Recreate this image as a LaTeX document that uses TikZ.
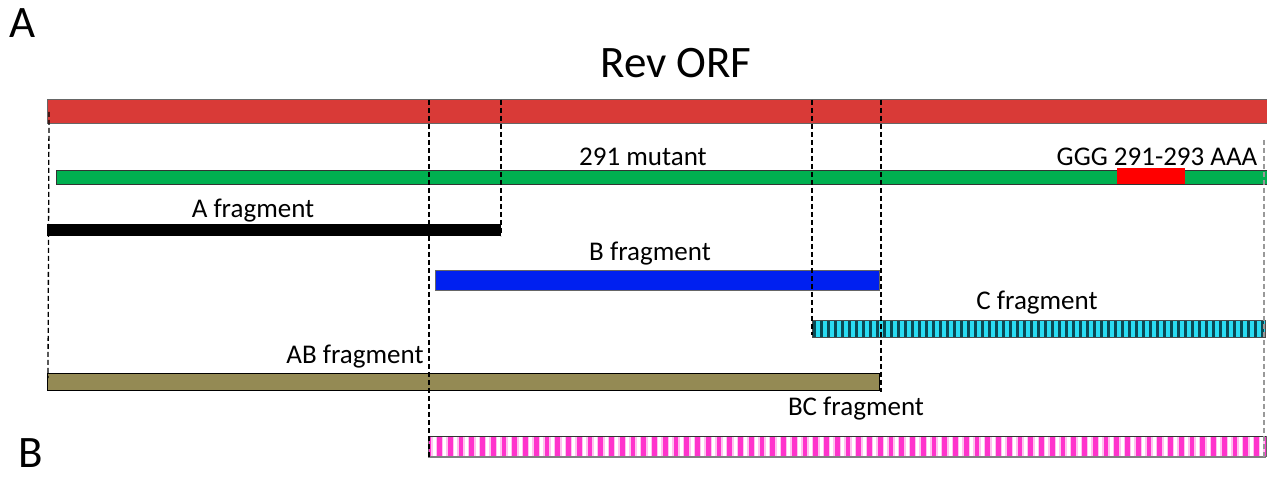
\documentclass[tikz,border=0pt]{standalone}
\usepackage{fontspec}
\setmainfont{Carlito}
\definecolor{revred}{HTML}{D93A37}
\definecolor{mutgreen}{HTML}{00B050}
\definecolor{bblue}{HTML}{0020F0}
\definecolor{ccyan}{HTML}{2ADCF2}
\definecolor{cstripe}{HTML}{0A4A55}
\definecolor{olive}{HTML}{948A54}
\definecolor{pinkbar}{HTML}{FF33CC}
\tikzset{
  guide/.style={line width=1.3pt, dash pattern=on 5pt off 3pt},
  lab/.style={font=\fontsize{27}{28}\selectfont, inner sep=0pt, anchor=base},
  big/.style={font=\fontsize{45}{48}\selectfont, inner sep=0pt, anchor=base},
}
\begin{document}
\begin{tikzpicture}[x=1pt,y=-1pt]
\useasboundingbox (0,0) rectangle (1267,478);
% bars
\path[fill=revred, draw=black!60, line width=1pt] (47,100) rectangle (1267,124);
\path[fill=mutgreen, draw=black!80, line width=0.8pt] (56,170) rectangle (1267,184);
\path[fill=red] (1117,168) rectangle (1185,184);
\path[fill=black] (47,224) rectangle (501,236);
\path[fill=bblue, draw=black!60, line width=0.8pt] (435,270) rectangle (879,290);
% cyan striped
\path[fill=ccyan] (812,320) rectangle (1265,337);
\foreach \i in {0,...,64} {
  \fill[cstripe] ({813+\i*7},320) rectangle ({815.5+\i*7},337);
}
\draw[black!70, line width=0.8pt] (812,320) rectangle (1265,337);
% olive
\path[fill=olive, draw=black, line width=1pt] (47,374) rectangle (879,391);
% pink striped
\path[fill=pinkbar] (428,436) rectangle (1266,457);
\foreach \i in {0,...,77} {
  \fill[white!70!pinkbar] ({431+\i*10.75},436) rectangle ({437+\i*10.75},457);
  \fill[white] ({432.5+\i*10.75},436) rectangle ({435.5+\i*10.75},457);
}
\draw[black!80, line width=1pt] (428,436) -- (1266,436);
\draw[black!50, line width=1.5pt] (428,457) -- (1266,457);
\draw[black!60, line width=0.8pt] (428,436) -- (428,457) (1266,436) -- (1266,457);
% guides
\draw[guide] (49,112) -- (48,378);
\draw[guide] (429,100) -- (429,457);
\draw[guide] (501,100) -- (501,236);
\draw[guide] (812,100) -- (812,335);
\draw[guide] (881,100) -- (881,392);
\draw[guide, black!40] (1264,140) -- (1264,457);
% texts
\node[big] (tA) at (23,38) {A};
\node[big] (tB) at (31,467) {B};
\node[big] (title) at (676,78) {Rev ORF};
\node[lab] (t291) at (643,166) {291 mutant};
\node[lab] (tggg) at (1157,166) {GGG 291-293 AAA};
\node[lab] (tAf) at (253,218) {A fragment};
\node[lab] (tBf) at (650,261) {B fragment};
\node[lab] (tCf) at (1037,310) {C fragment};
\node[lab] (tABf) at (355,364) {AB fragment};
\node[lab] (tBCf) at (856,415) {BC fragment};
\end{tikzpicture}
\end{document}
